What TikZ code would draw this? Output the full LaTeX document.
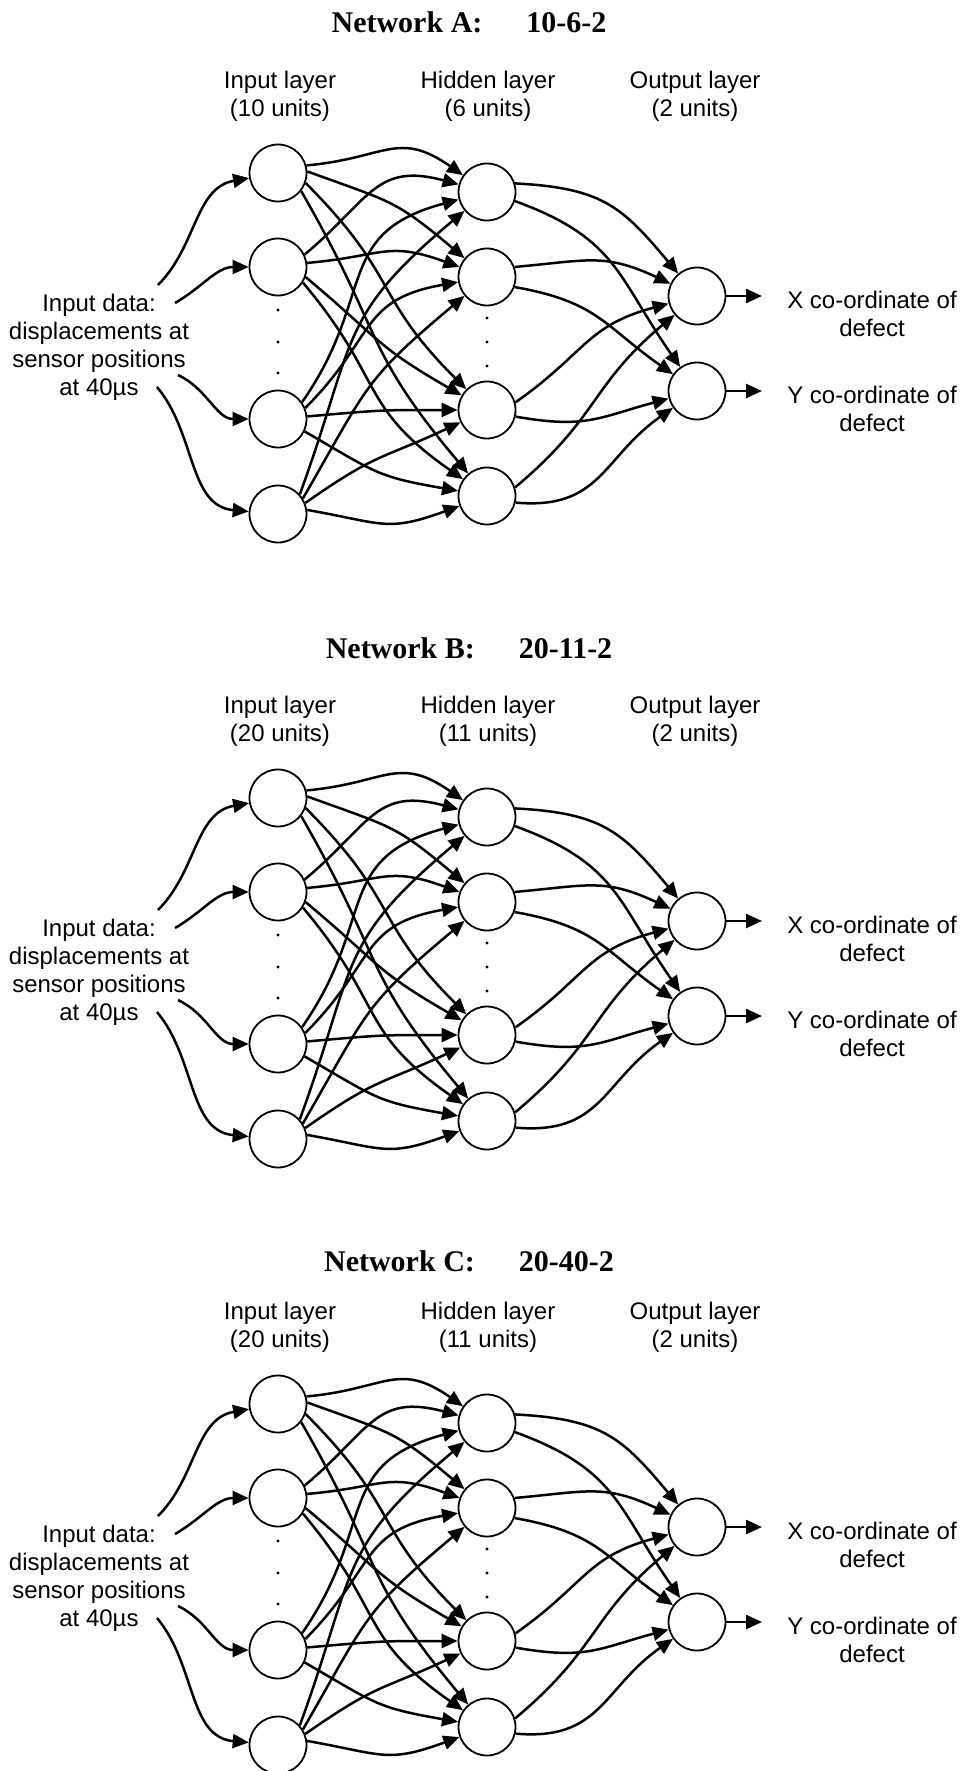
\documentclass[tikz,border=0pt]{standalone}
\usepackage{fontspec}
\setmainfont{Liberation Sans}
\newfontfamily\titlefont{Liberation Serif}
\usetikzlibrary{arrows.meta}

\begin{document}
\begin{tikzpicture}[x=0.5pt,y=-0.5pt,
        arrow/.style = {line width=1.25pt,-{Stealth[inset=0pt,length=8pt,width=7pt]}},
        unit/.style = {circle,draw,line width=0.9pt,fill=white,inner sep=0pt,minimum size=28.5pt},
        lab/.style = {align=center,font=\fontsize{12}{14}\selectfont},
        titletext/.style = {font=\titlefont\bfseries\fontsize{15}{18}\selectfont}]
    \useasboundingbox (0,0) rectangle (964,1771);
    \foreach \net/\dy/\ty/\sizes/\nin/\nhid in {A/0/22/10-6-2/10/6, B/625/648/20-11-2/20/11, C/1231/1261/20-40-2/20/11} {
        \node[titletext] (\net title) at (469,\ty) {Network \net:\hspace{22pt}\sizes};
        \begin{scope}[shift={(0,\dy)}]
            \node[lab] (\net inlab)  at (280,96) {Input layer\\(\nin\ units)};
            \node[lab] (\net hidlab) at (488,96) {Hidden layer\\(\nhid\ units)};
            \node[lab] (\net outlab) at (695,96) {Output layer\\(2 units)};
            \node[lab] (\net data) at (99,347) {Input data:\\displacements at\\sensor positions\\at 40µs};
            \node[lab] (\net xlab) at (872,314) {X co-ordinate of\\defect};
            \node[lab] (\net ylab) at (872,409) {Y co-ordinate of\\defect};

            \node[unit] (\net i1) at (278,173) {};
            \node[unit] (\net i2) at (278,267) {};
            \node[unit] (\net i3) at (278,419) {};
            \node[unit] (\net i4) at (278,514) {};
            \node[unit] (\net h1) at (487,192) {};
            \node[unit] (\net h2) at (487,277) {};
            \node[unit] (\net h3) at (487,410) {};
            \node[unit] (\net h4) at (487,496) {};
            \node[unit] (\net o1) at (697,296) {};
            \node[unit] (\net o2) at (697,391) {};

            \foreach \yy in {310,342,373} \fill (278,\yy) circle (0.8pt);
            \foreach \yy in {318,342,366} \fill (487,\yy) circle (0.8pt);

            \coordinate (\net d1) at (158,285);
            \coordinate (\net d2) at (175,303);
            \coordinate (\net d3) at (178,375);
            \coordinate (\net d4) at (157,387);
            \coordinate (\net xend) at (762,296);
            \coordinate (\net yend) at (762,391);

            \foreach \s/\a/\b in {1/45/190, 2/30/180, 3/-25/180, 4/-50/175}
                \draw[arrow] (\net d\s) to[out=\a,in=\b] (\net i\s);
            \foreach \s/\t/\p/\a/\b in {1/1/15/5/145, 1/2/3/-20/140, 1/3/-20/-45/135, 1/4/-38/-60/130,
                                        2/1/25/40/165, 2/2/8/5/160, 2/3/-20/-40/150, 2/4/-32/-50/145,
                                        3/1/35/55/195, 3/2/22/45/190, 3/3/5/5/180, 3/4/-25/-30/170,
                                        4/1/42/70/220, 4/2/32/60/220, 4/3/22/35/205, 4/4/8/-10/200}
                \draw[arrow] (\net i\s.\p) to[out=\a,in=\b,looseness=1.3] (\net h\t.\b);
            \foreach \s/\t/\p/\a/\b in {1/1/17/-3/130, 1/2/-18/-20/125, 2/1/20/5/155, 2/2/-20/-10/145,
                                        3/1/15/35/195, 3/2/-13/-10/195, 4/1/17/40/220, 4/2/-13/-5/215}
                \draw[arrow] (\net h\s.\p) to[out=\a,in=\b,looseness=1.2] (\net o\t.\b);
            \draw[arrow] (\net o1) -- (\net xend);
            \draw[arrow] (\net o2) -- (\net yend);
        \end{scope}
    }
\end{tikzpicture}
\end{document}
